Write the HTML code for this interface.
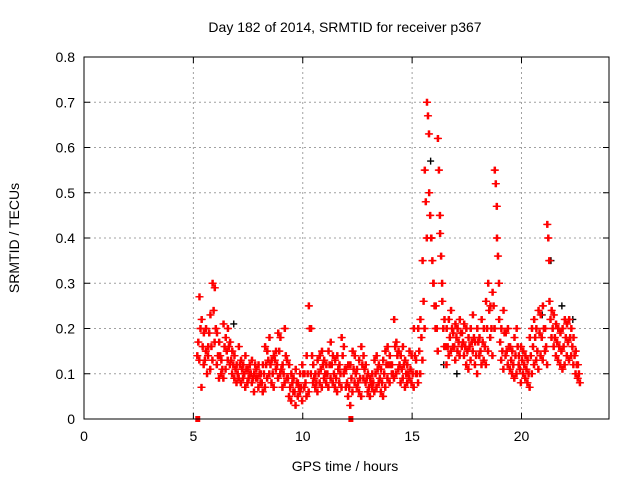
<!DOCTYPE html>
<html><head><meta charset="utf-8"><style>
body{margin:0;background:#fff;width:640px;height:480px;overflow:hidden}
text{font-family:"Liberation Sans",sans-serif;font-size:14px;fill:#000}
</style></head><body>
<svg id="chart" width="640" height="480" xmlns="http://www.w3.org/2000/svg">
<text x="345" y="32" text-anchor="middle">Day 182 of 2014, SRMTID for receiver p367</text>
<text transform="translate(19,238) rotate(-90)" text-anchor="middle">SRMTID / TECUs</text>
<text x="345" y="471" text-anchor="middle">GPS time / hours</text>
<g id="grid"></g>
<g id="marks"></g>
<rect x="84" y="57" width="525" height="362" fill="none" stroke="#000" stroke-width="1"/>
<g id="ticks"></g>
</svg>
<script>
const xTicks=[0,5,10,15,20];
const yTicks=[0,0.1,0.2,0.3,0.4,0.5,0.6,0.7,0.8];
const startTime=5.2, stepTime=0.1;
const seriesA=[0.14,0.27,0.22,0.19,0.2,0.16,0.23,0.3,0.29,0.19,
0.17,0.13,0.21,0.18,0.2,0.17,0.15,0.14,0.12,0.16,
0.13,0.12,0.14,0.11,0.12,0.13,0.1,0.11,0.12,0.1,
0.12,0.16,0.15,0.18,0.13,0.14,0.15,0.19,0.18,0.12,
0.2,0.13,0.12,0.1,0.09,0.11,0.08,0.1,0.12,0.1,
0.14,0.25,0.2,0.12,0.1,0.13,0.14,0.15,0.13,0.12,
0.15,0.17,0.14,0.13,0.14,0.12,0.18,0.16,0.11,0.12,
0.12,0.15,0.14,0.11,0.13,0.16,0.14,0.12,0.1,0.09,
0.1,0.13,0.14,0.12,0.11,0.13,0.15,0.16,0.14,0.12,
0.22,0.17,0.15,0.14,0.16,0.13,0.12,0.15,0.14,0.2,
0.13,0.2,0.22,0.35,0.55,0.7,0.5,0.4,0.3,0.25,
0.62,0.41,0.26,0.22,0.2,0.22,0.24,0.19,0.21,0.2,
0.22,0.19,0.21,0.2,0.18,0.2,0.23,0.17,0.2,0.18,
0.22,0.2,0.26,0.3,0.25,0.28,0.55,0.4,0.22,0.2,
0.24,0.19,0.2,0.16,0.15,0.18,0.2,0.14,0.16,0.15,
0.14,0.13,0.18,0.2,0.22,0.2,0.24,0.23,0.25,0.2,
0.43,0.26,0.24,0.23,0.21,0.2,0.19,0.2,0.22,0.21,
0.22,0.2,0.18,0.15,0.12];
const seriesB=[0.13,0.07,0.12,0.15,0.14,0.11,0.13,0.17,0.12,0.09,
0.1,0.09,0.11,0.13,0.12,0.1,0.09,0.08,0.09,0.08,
0.09,0.07,0.08,0.1,0.08,0.06,0.09,0.07,0.08,0.06,
0.07,0.09,0.1,0.08,0.07,0.11,0.09,0.1,0.07,0.08,
0.09,0.05,0.04,0.06,0.03,0.05,0.06,0.04,0.07,0.05,
0.06,0.1,0.08,0.07,0.06,0.08,0.07,0.09,0.08,0.07,
0.09,0.08,0.07,0.06,0.08,0.07,0.1,0.07,0.05,0.03,
0.06,0.08,0.07,0.06,0.05,0.09,0.08,0.06,0.05,0.07,
0.06,0.07,0.08,0.06,0.05,0.07,0.09,0.08,0.1,0.09,
0.1,0.11,0.08,0.09,0.07,0.08,0.09,0.08,0.07,0.1,
0.08,0.1,0.13,0.2,0.4,0.63,0.4,0.3,0.2,0.15,
0.45,0.3,0.16,0.12,0.14,0.15,0.16,0.13,0.15,0.14,
0.16,0.14,0.12,0.11,0.13,0.15,0.12,0.1,0.14,0.12,
0.13,0.12,0.15,0.18,0.14,0.2,0.47,0.3,0.13,0.11,
0.14,0.12,0.11,0.1,0.09,0.1,0.12,0.08,0.1,0.09,
0.08,0.07,0.1,0.12,0.13,0.11,0.14,0.13,0.15,0.12,
0.35,0.18,0.16,0.14,0.13,0.12,0.11,0.12,0.14,0.13,
0.14,0.12,0.1,0.09,0.08];
const seriesC=[0.17,0.2,0.16,0.13,0.1,0.19,0.16,0.24,0.2,0.14,
0.14,0.11,0.16,0.15,0.16,0.13,0.12,0.11,0.1,0.12,
0.11,0.1,0.11,0.09,0.1,0.09,0.12,0.09,0.1,0.08,
0.1,0.12,0.13,0.12,0.1,0.13,0.12,0.15,0.11,0.1,
0.14,0.09,0.07,0.08,0.06,0.08,0.07,0.07,0.1,0.08,
0.1,0.2,0.14,0.09,0.08,0.1,0.11,0.12,0.1,0.1,
0.12,0.12,0.1,0.09,0.11,0.1,0.14,0.11,0.08,0.07,
0.09,0.11,0.1,0.08,0.09,0.12,0.11,0.09,0.07,0.08,
0.08,0.1,0.11,0.09,0.08,0.1,0.12,0.12,0.12,0.1,
0.16,0.14,0.12,0.11,0.12,0.1,0.1,0.11,0.1,0.14,
0.1,0.15,0.18,0.26,0.48,0.67,0.45,0.35,0.25,0.2,
0.55,0.36,0.2,0.16,0.16,0.18,0.2,0.16,0.18,0.17,
0.19,0.17,0.16,0.15,0.16,0.17,0.18,0.14,0.17,0.15,
0.17,0.16,0.2,0.24,0.2,0.25,0.52,0.36,0.17,0.15,
0.19,0.15,0.16,0.13,0.12,0.14,0.16,0.11,0.13,0.12,
0.11,0.1,0.14,0.16,0.18,0.15,0.19,0.18,0.2,0.16,
0.4,0.22,0.2,0.18,0.17,0.16,0.15,0.16,0.18,0.17,
0.18,0.16,0.14,0.12,0.1];
const blackTimes=[6.8,15.8,16.4,17.0,18.7,20.9,21.3,21.8,22.3];
const blackValues=[0.21,0.57,0.12,0.1,0.2,0.23,0.35,0.25,0.22];
const gapTimes=[5.2,12.2];

const X0=84,X1=609,Y0=419,Y1=57;
const xs=t=>X0+t/24*(X1-X0);
const ys=v=>Y0-v/0.8*(Y0-Y1);
const NS="http://www.w3.org/2000/svg";
const grid=document.getElementById('grid'),marks=document.getElementById('marks'),ticks=document.getElementById('ticks');
function mk(tag,attrs,parent){const e=document.createElementNS(NS,tag);for(const k in attrs)e.setAttribute(k,attrs[k]);parent.appendChild(e);return e;}
xTicks.forEach(t=>{
  const x=xs(t);
  if(t>0){const g=mk('line',{x1:x,x2:x,y1:Y0,y2:Y1,stroke:'#a0a0a0','stroke-dasharray':'2,3'},grid);
  
  }
  const a=mk('path',{d:`M${x},${Y0}v-6M${x},${Y1}v6`,stroke:'#000'},ticks);
  
  
  const l=mk('text',{x:x,y:Y0+22,'text-anchor':'middle'},ticks);l.textContent=t;
  
  
});
yTicks.forEach(v=>{
  const y=ys(v);
  if(v>0&&v<0.8){const g=mk('line',{x1:X0,x2:X1,y1:y,y2:y,stroke:'#a0a0a0','stroke-dasharray':'2,3'},grid);
  
  }
  const a=mk('path',{d:`M${X0},${y}h6M${X1},${y}h-6`,stroke:'#000'},ticks);
  
  
  const l=mk('text',{x:X0-9,y:y+5,'text-anchor':'end'},ticks);l.textContent=String(v);
  
  
});
function plus(t,v,col,dx){
  const x=xs(t)+dx,y=ys(v);
  const p=mk('path',{d:`M${x-3.5},${y}h7M${x},${y-3.5}v7`,stroke:col,'stroke-width':1.4},marks);
  
  
}
blackTimes.forEach((t,i)=>plus(t,blackValues[i],'#000',1));
[[seriesA,-1],[seriesB,1],[seriesC,0]].forEach(([s,dx])=>{
  s.forEach((v,i)=>{plus(startTime+i*stepTime,v,'#f00',dx);plus(startTime+i*stepTime,v,'#f00',dx+1.1);});
});
gapTimes.forEach(t=>{
  const r=mk('rect',{x:xs(t)-2.5,y:Y0-3,width:5,height:6,fill:'#f00'},marks);
  
  
});
</script>
</body></html>
